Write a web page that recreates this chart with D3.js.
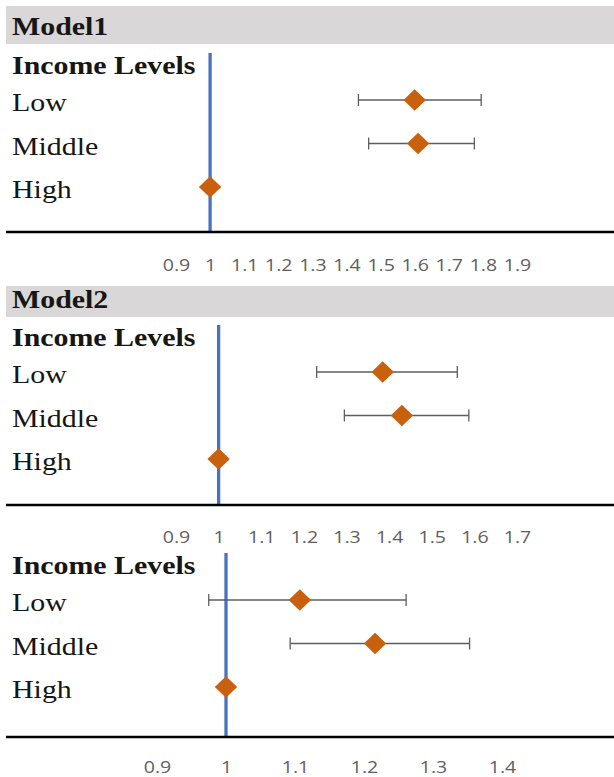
<!DOCTYPE html>
<html>
<head>
<meta charset="utf-8">
<script src="https://cdn.jsdelivr.net/npm/d3@7"></script>
<style>
  html, body { margin: 0; padding: 0; background: #fff; }
  svg { display: block; }
</style>
</head>
<body>
<svg id="chart" width="614" height="777"></svg>
<script>
// Odds-ratio forest plot: three model panels, income level rows
const categories = ["Low", "Middle", "High"];
const groupLabel = "Income Levels";

const model1Est = [1.60, 1.61, 1];
const model1Lo  = [1.435, 1.465, null];
const model1Hi  = [1.795, 1.775, null];
const model1Ticks = [0.9, 1, 1.1, 1.2, 1.3, 1.4, 1.5, 1.6, 1.7, 1.8, 1.9];

const model2Est = [1.385, 1.43, 1];
const model2Lo  = [1.23, 1.295, null];
const model2Hi  = [1.56, 1.587, null];
const model2Ticks = [0.9, 1, 1.1, 1.2, 1.3, 1.4, 1.5, 1.6, 1.7];

const model3Est = [1.107, 1.216, 1];
const model3Lo  = [0.975, 1.093, null];
const model3Hi  = [1.261, 1.353, null];
const model3Ticks = [0.9, 1, 1.1, 1.2, 1.3, 1.4];

const panels = [
  { title: "Model1", est: model1Est, lo: model1Lo, hi: model1Hi, ticks: model1Ticks,
    band: [6, 44], top: 53, axisGap: 179, tickGap: 33, domain: [0.9, 1.9], range: [176, 517] },
  { title: "Model2", est: model2Est, lo: model2Lo, hi: model2Hi, ticks: model2Ticks,
    band: [286, 317], top: 325, axisGap: 180, tickGap: 32, domain: [0.9, 1.7], range: [176, 517] },
  { title: null, est: model3Est, lo: model3Lo, hi: model3Hi, ticks: model3Ticks,
    band: null, top: 553, axisGap: 184, tickGap: 30, domain: [0.9, 1.4], range: [157, 502] }
];

const W = 614;
const svg = d3.select("#chart");
const serif = "'Liberation Serif', 'Times New Roman', serif";
const sans = "'Open Sans', 'Noto Sans', sans-serif";
const orange = "#C9600E";
const stretch = 1.15;   // labels are set slightly wide

function label(g, txt, x, y, bold, size) {
  g.append("text")
    .attr("transform", `translate(${x},${y}) scale(${stretch},1)`)
    .attr("font-family", serif)
    .attr("font-weight", bold ? "bold" : "normal")
    .attr("font-size", size)
    .attr("fill", "#161616")
    .text(txt);
}

panels.forEach(p => {
  const g = svg.append("g");
  const x = d3.scaleLinear().domain(p.domain).range(p.range);

  // header band with model title
  if (p.title) {
    g.append("rect").attr("x", 6).attr("y", p.band[0])
      .attr("width", W - 6).attr("height", p.band[1] - p.band[0])
      .attr("fill", "#D9D7D7");
    label(g, p.title, 12, p.band[1] - 9, true, 26);
  }

  const plotTop = p.top;
  const plotBottom = p.top + p.axisGap;
  const y = d3.scalePoint().domain(categories).range([plotTop + 47, plotTop + 134]);

  // row labels
  label(g, groupLabel, 12, plotTop + 21, true, 26);
  categories.forEach(c => label(g, c, 12, y(c) + 11, false, 26));

  // reference line at 1
  g.append("line").attr("x1", x(1)).attr("x2", x(1))
    .attr("y1", plotTop).attr("y2", plotBottom)
    .attr("stroke", "#4A72C2").attr("stroke-width", 3.3);

  // axis baseline
  g.append("line").attr("x1", 6).attr("x2", W).attr("y1", plotBottom).attr("y2", plotBottom)
    .attr("stroke", "#000").attr("stroke-width", 2.6);

  // tick labels via d3 axis (no domain/tick lines)
  const axis = d3.axisBottom(x).tickValues(p.ticks).tickSize(0).tickPadding(0)
    .tickFormat(d => String(+d.toFixed(1)));
  const ag = g.append("g").attr("transform", `translate(0,${plotBottom + p.tickGap})`).call(axis);
  ag.select(".domain").remove();
  ag.selectAll("text")
    .attr("font-family", sans).attr("font-size", 17)
    .attr("fill", "#606060").attr("dy", "0.36em")
    .attr("transform", `scale(${stretch},1)`);

  // confidence intervals
  categories.forEach((c, i) => {
    if (p.lo[i] == null) return;
    const cy = y(c);
    const ci = g.append("g").attr("stroke", "#5E5E5E").attr("stroke-width", 1.3);
    ci.append("line").attr("x1", x(p.lo[i])).attr("x2", x(p.hi[i])).attr("y1", cy).attr("y2", cy);
    [p.lo[i], p.hi[i]].forEach(v => {
      ci.append("line").attr("x1", x(v)).attr("x2", x(v)).attr("y1", cy - 6).attr("y2", cy + 6);
    });
  });

  // point estimates (diamonds)
  const diamond = d3.symbol().type(d3.symbolDiamond2).size(290);
  categories.forEach((c, i) => {
    g.append("path").attr("d", diamond())
      .attr("transform", `translate(${x(p.est[i])},${y(c)}) scale(1.05,1)`)
      .attr("fill", orange);
  });
});
</script>
</body>
</html>
